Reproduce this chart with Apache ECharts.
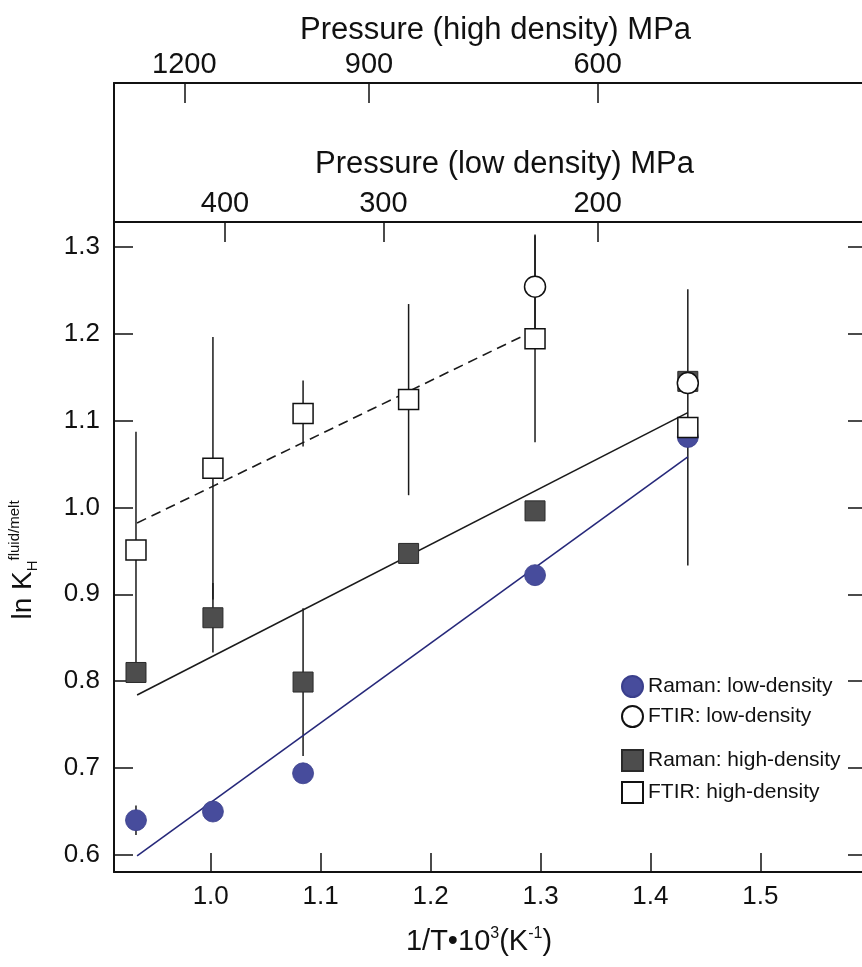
<!DOCTYPE html>
<html><head><meta charset="utf-8">
<script src="https://cdn.jsdelivr.net/npm/echarts@6/dist/echarts.min.js"></script>
<style>html,body{margin:0;padding:0;background:#fff}#c{width:862px;height:967px}</style>
</head><body><div id="c"></div>
<script>
// ---- data ----
const invT = [0.932, 1.002, 1.084, 1.180, 1.295, 1.434];
const ramanLow = [0.640, 0.650, 0.694, null, 0.922, 1.081];
const ramanLowErr = [0.017, 0, 0, 0, 0, 0];
const ftirLow = [null, null, null, null, 1.254, 1.143];
const ftirLowErr = [0, 0, 0, 0, 0.06, 0];
const ramanHigh = [0.810, 0.873, 0.799, 0.947, 0.996, 1.145];
const ramanHighErr = [0, 0.04, 0.085, 0, 0, 0];
const ftirHigh = [0.951, 1.045, 1.108, 1.124, 1.194, 1.092];
const ftirHighErr = [0.136, 0.151, 0.038, 0.11, 0.119, 0.159];

const fitFtirHighX = [0.933, 1.295], fitFtirHighY = [0.982, 1.204];
const fitRamanHighX = [0.933, 1.434], fitRamanHighY = [0.784, 1.109];
const fitRamanLowX = [0.933, 1.434], fitRamanLowY = [0.599, 1.058];

const xTicks = [1.0, 1.1, 1.2, 1.3, 1.4, 1.5];
const yTicks = [0.6, 0.7, 0.8, 0.9, 1.0, 1.1, 1.2, 1.3];
const lowDensityTickPos = [1.013, 1.157, 1.352];
const lowDensityTickLabels = ['400', '300', '200'];
const highDensityTickPos = [0.976, 1.144, 1.352];
const highDensityTickLabels = ['1200', '900', '600'];

const names = ['Raman: low-density', 'FTIR: low-density', 'Raman: high-density', 'FTIR: high-density'];

// ---- helpers ----
const FONT = 'Liberation Sans';
const INK = '#111';
function pts(ys) { return invT.map((x, i) => ys[i] == null ? null : [x, ys[i]]).filter(Boolean); }
function errs(ys, es) {
  const out = [];
  invT.forEach((x, i) => { if (ys[i] != null && es[i] > 0) out.push([x, ys[i] - es[i], ys[i] + es[i]]); });
  return out;
}
function fit(xs, ys) { return xs.map((x, i) => [x, ys[i]]); }
function pick(pos, labels) {
  return v => { const i = pos.findIndex(p => Math.abs(p - v) < 1e-6); return i >= 0 ? labels[i] : ''; };
}
const errData = [].concat(errs(ramanLow, ramanLowErr), errs(ftirLow, ftirLowErr),
  errs(ramanHigh, ramanHighErr), errs(ftirHigh, ftirHighErr));

const XMIN = 0.912, XMAX = 1.597, YMIN = 0.5804, YMAX = 1.3284;
const lineStyle = { color: INK, width: 2 };
const tickStyle = { color: INK, width: 1.5 };

const option = {
  backgroundColor: '#fff',
  animation: false,
  textStyle: { fontFamily: FONT, color: INK },
  grid: [
    { left: 114, right: -5, top: 222, bottom: 95, containLabel: false, outerBoundsMode: 'none' },
    { left: 114, right: -5, top: 83, height: 139, containLabel: false, outerBoundsMode: 'none' }
  ],
  legend: [
    { data: names.slice(0, 2), orient: 'vertical', left: 616, top: 670, itemWidth: 21, itemHeight: 21, itemGap: 7,
      selectedMode: false, textStyle: { fontSize: 21, color: INK, fontFamily: FONT } },
    { data: names.slice(2, 4), orient: 'vertical', left: 616, top: 744, itemWidth: 21, itemHeight: 21, itemGap: 9,
      selectedMode: false, textStyle: { fontSize: 21, color: INK, fontFamily: FONT } }
  ],
  xAxis: [
    { type: 'value', gridIndex: 0, position: 'bottom', min: XMIN, max: XMAX,
      axisLine: { show: true, onZero: false, lineStyle },
      axisTick: { show: true, inside: true, length: 19, lineStyle: tickStyle, customValues: xTicks },
      axisLabel: { customValues: xTicks, formatter: v => v.toFixed(1), fontSize: 26, color: INK, margin: 12, fontFamily: FONT },
      splitLine: { show: false },
      name: '1/T•10{s|3}(K{s|-1})', nameLocation: 'middle', nameGap: 54, nameMoveOverlap: false,
      nameTextStyle: { fontSize: 29, color: INK, fontFamily: FONT, lineHeight: 32, padding: [0, 23, 0, 0],
        rich: { s: { fontSize: 16, verticalAlign: 'top', lineHeight: 32, fontFamily: FONT, color: INK } } } },
    { type: 'value', gridIndex: 0, position: 'top', min: XMIN, max: XMAX,
      axisLine: { show: true, onZero: false, lineStyle },
      axisTick: { show: true, inside: true, length: 20, lineStyle: tickStyle, customValues: lowDensityTickPos },
      axisLabel: { customValues: lowDensityTickPos, formatter: pick(lowDensityTickPos, lowDensityTickLabels),
        fontSize: 29, color: INK, margin: 4, fontFamily: FONT },
      splitLine: { show: false },
      name: 'Pressure (low density) MPa', nameLocation: 'middle', nameGap: 42, nameMoveOverlap: false,
      nameTextStyle: { fontSize: 31, color: INK, fontFamily: FONT, padding: [0, 0, 0, 28] } },
    { type: 'value', gridIndex: 1, position: 'top', min: XMIN, max: XMAX,
      axisLine: { show: true, onZero: false, lineStyle },
      axisTick: { show: true, inside: true, length: 20, lineStyle: tickStyle, customValues: highDensityTickPos },
      axisLabel: { customValues: highDensityTickPos, formatter: pick(highDensityTickPos, highDensityTickLabels),
        fontSize: 29, color: INK, margin: 4, fontFamily: FONT },
      splitLine: { show: false },
      name: 'Pressure (high density) MPa', nameLocation: 'middle', nameGap: 37, nameMoveOverlap: false,
      nameTextStyle: { fontSize: 31, color: INK, fontFamily: FONT, padding: [0, 0, 0, 10] } }
  ],
  yAxis: [
    { type: 'value', gridIndex: 0, position: 'left', min: YMIN, max: YMAX,
      axisLine: { show: true, onZero: false, lineStyle },
      axisTick: { show: true, inside: true, length: 19, lineStyle: tickStyle, customValues: yTicks },
      axisLabel: { customValues: yTicks, formatter: v => v.toFixed(1), fontSize: 26, color: INK, margin: 14, fontFamily: FONT },
      splitLine: { show: false },
      name: '{a|ln K}{b|H}{c|fluid/melt}', nameLocation: 'middle', nameRotate: 90, nameGap: 72, nameMoveOverlap: false,
      nameTextStyle: { color: INK, fontFamily: FONT, padding: [0, 26, 0, 0],
        rich: {
          a: { fontSize: 28, lineHeight: 38, verticalAlign: 'middle', fontFamily: FONT, color: INK },
          b: { fontSize: 15, lineHeight: 38, verticalAlign: 'bottom', fontFamily: FONT, color: INK, padding: [0, 0, 2, 0] },
          c: { fontSize: 15, lineHeight: 38, verticalAlign: 'top', fontFamily: FONT, color: INK, padding: [3, 0, 0, 0] }
        } } },
    { type: 'value', gridIndex: 0, position: 'right', min: YMIN, max: YMAX,
      axisLine: { show: true, onZero: false, lineStyle },
      axisTick: { show: true, inside: true, length: 19, lineStyle: tickStyle, customValues: yTicks },
      axisLabel: { show: false }, splitLine: { show: false } },
    { type: 'value', gridIndex: 1, position: 'left', min: 0, max: 1,
      axisLine: { show: true, onZero: false, lineStyle },
      axisTick: { show: false }, axisLabel: { show: false }, splitLine: { show: false } }
  ],
  series: [
    { type: 'custom', name: 'error bars', xAxisIndex: 0, yAxisIndex: 0, z: 1, data: errData,
      encode: { x: 0, y: [1, 2] },
      renderItem: (params, api) => {
        const p1 = api.coord([api.value(0), api.value(1)]);
        const p2 = api.coord([api.value(0), api.value(2)]);
        return { type: 'line', shape: { x1: p1[0], y1: p1[1], x2: p2[0], y2: p2[1] },
          style: { stroke: '#1a1a1a', lineWidth: 1.5 } };
      } },
    { type: 'line', name: 'fit FTIR high', data: fit(fitFtirHighX, fitFtirHighY), z: 2, symbol: 'none',
      lineStyle: { color: '#1a1a1a', width: 1.6, type: [10, 6] } },
    { type: 'line', name: 'fit Raman high', data: fit(fitRamanHighX, fitRamanHighY), z: 2, symbol: 'none',
      lineStyle: { color: '#1a1a1a', width: 1.6 } },
    { type: 'line', name: 'fit Raman low', data: fit(fitRamanLowX, fitRamanLowY), z: 2, symbol: 'none',
      lineStyle: { color: '#26287a', width: 1.6 } },
    { type: 'scatter', name: names[0], data: pts(ramanLow), z: 3, symbol: 'circle', symbolSize: 21,
      itemStyle: { color: '#474c9c', borderColor: '#3a3f8c', borderWidth: 0.8, opacity: 1 } },
    { type: 'scatter', name: names[2], data: pts(ramanHigh), z: 4, symbol: 'rect', symbolSize: 20,
      itemStyle: { color: '#4d4d4d', borderColor: '#2a2a2a', borderWidth: 1, opacity: 1 } },
    { type: 'scatter', name: names[1], data: pts(ftirLow), z: 5, symbol: 'circle', symbolSize: 21,
      itemStyle: { color: '#fff', borderColor: '#111', borderWidth: 1.5, opacity: 1 } },
    { type: 'scatter', name: names[3], data: pts(ftirHigh), z: 6, symbol: 'rect', symbolSize: 20,
      itemStyle: { color: '#fff', borderColor: '#111', borderWidth: 1.5, opacity: 1 } }
  ]
};
const chart = echarts.init(document.getElementById('c'), null, { renderer: 'canvas' });
chart.setOption(option);
</script>
</body></html>
